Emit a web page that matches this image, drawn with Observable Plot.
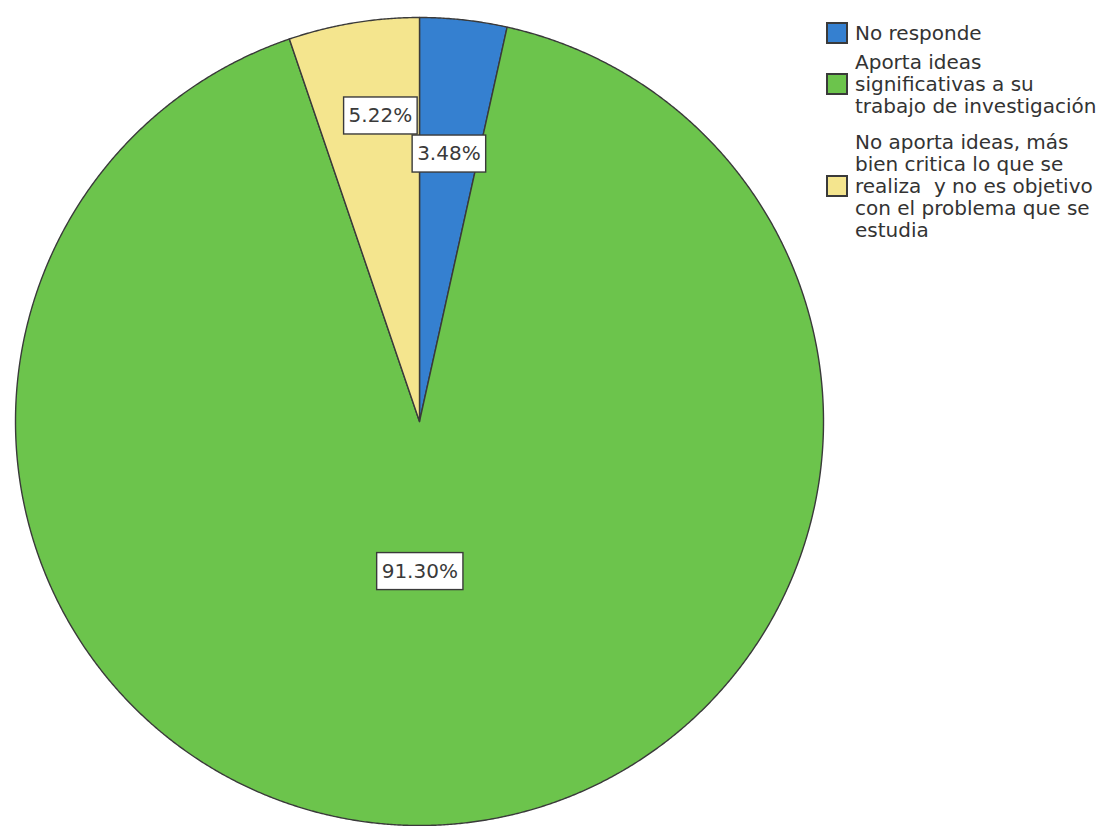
<!DOCTYPE html>
<html>
<head>
<meta charset="utf-8">
<script src="https://cdn.jsdelivr.net/npm/d3@7"></script>
<script src="https://cdn.jsdelivr.net/npm/@observablehq/plot@0.6"></script>
<style>
  html, body { margin: 0; padding: 0; background: #ffffff; }
  #wrap { position: relative; width: 1099px; height: 826px; overflow: hidden; }
  #legend { position: absolute; left: 826px; top: 22px; font-family: "DejaVu Sans", sans-serif; font-size: 20px; line-height: 22px; color: #333; }
  .item { display: flex; align-items: center; }
  .sw { width: 18px; height: 18px; border: 2px solid #3a3a3a; margin-right: 7px; flex: none; }
  .txt { white-space: pre; }
</style>
</head>
<body>
<div id="wrap"></div>
<script>
// ---- data ----
const categories = [
  "No responde",
  "Aporta ideas significativas a su trabajo de investigación",
  "No aporta ideas, más bien critica lo que se realiza  y no es objetivo con el problema que se estudia"
];
const legendLines = [
  ["No responde"],
  ["Aporta ideas", "significativas a su", "trabajo de investigación"],
  ["No aporta ideas, más", "bien critica lo que se", "realiza  y no es objetivo", "con el problema que se", "estudia"]
];
const percents = [3.48, 91.30, 5.22];
const percentLabels = ["3.48%", "91.30%", "5.22%"];
const colors = ["#3580d0", "#6cc44c", "#f4e58e"];

// ---- layout (code, not data) ----
const R = 404;
const labelPlacement = [
  {r: 0.667, nx: 0, ny: 0},
  {r: 0.376, nx: -8, ny: -2},
  {r: 0.76, nx: 11, ny: -3}
];
const itemGaps = [7, 14, 0];

const arcs = d3.pie().sort(null).value(d => d)(percents);

const points = [];
arcs.forEach((a, i) => {
  const cat = categories[i];
  points.push({cat, x: 0, y: 0});
  const n = Math.max(4, Math.ceil((a.endAngle - a.startAngle) / (Math.PI / 720)));
  for (let k = 0; k <= n; k++) {
    const t = a.startAngle + (a.endAngle - a.startAngle) * k / n;
    points.push({cat, x: Math.sin(t), y: Math.cos(t)});
  }
  points.push({cat, x: 0, y: 0});
});

const labels = arcs.map((a, i) => {
  const m = (a.startAngle + a.endAngle) / 2;
  const p = labelPlacement[i];
  return {
    text: percentLabels[i],
    x: p.r * Math.sin(m) + p.nx / R,
    y: p.r * Math.cos(m) - p.ny / R
  };
});

const chart = Plot.plot({
  width: 1099,
  height: 826,
  marginLeft: 15,
  marginRight: 276,
  marginTop: 17,
  marginBottom: 1,
  x: {domain: [-1, 1], axis: null},
  y: {domain: [-1, 1], axis: null},
  color: {domain: categories, range: colors},
  style: {background: "#ffffff"},
  marks: [
    Plot.line(points, {x: "x", y: "y", z: "cat", fill: "cat", stroke: "#3a3a3a", strokeWidth: 1.4, strokeLinejoin: "round"}),
    Plot.text(labels, {x: "x", y: "y", text: "text", fontSize: 20, fontFamily: "DejaVu Sans", fill: "#3a3a3a"})
  ]
});

const wrap = document.getElementById("wrap");
wrap.appendChild(chart);

// boxes behind percentage labels
chart.querySelectorAll('g[aria-label="text"] text').forEach(t => {
  const b = t.getBBox();
  const r = document.createElementNS("http://www.w3.org/2000/svg", "rect");
  r.setAttribute("x", b.x - 5);
  r.setAttribute("y", b.y - 6);
  r.setAttribute("width", b.width + 10);
  r.setAttribute("height", b.height + 13);
  r.setAttribute("fill", "#ffffff");
  r.setAttribute("stroke", "#3a3a3a");
  r.setAttribute("stroke-width", 1.4);
  const tr = t.getAttribute("transform");
  if (tr) r.setAttribute("transform", tr);
  t.parentNode.insertBefore(r, t);
});

// legend
const legend = document.createElement("div");
legend.id = "legend";
categories.forEach((c, i) => {
  const item = document.createElement("div");
  item.className = "item";
  item.style.marginBottom = itemGaps[i] + "px";
  const sw = document.createElement("div");
  sw.className = "sw";
  sw.style.background = colors[i];
  const tx = document.createElement("div");
  tx.className = "txt";
  tx.textContent = legendLines[i].join("\n");
  item.appendChild(sw);
  item.appendChild(tx);
  legend.appendChild(item);
});
wrap.appendChild(legend);
</script>
</body>
</html>
